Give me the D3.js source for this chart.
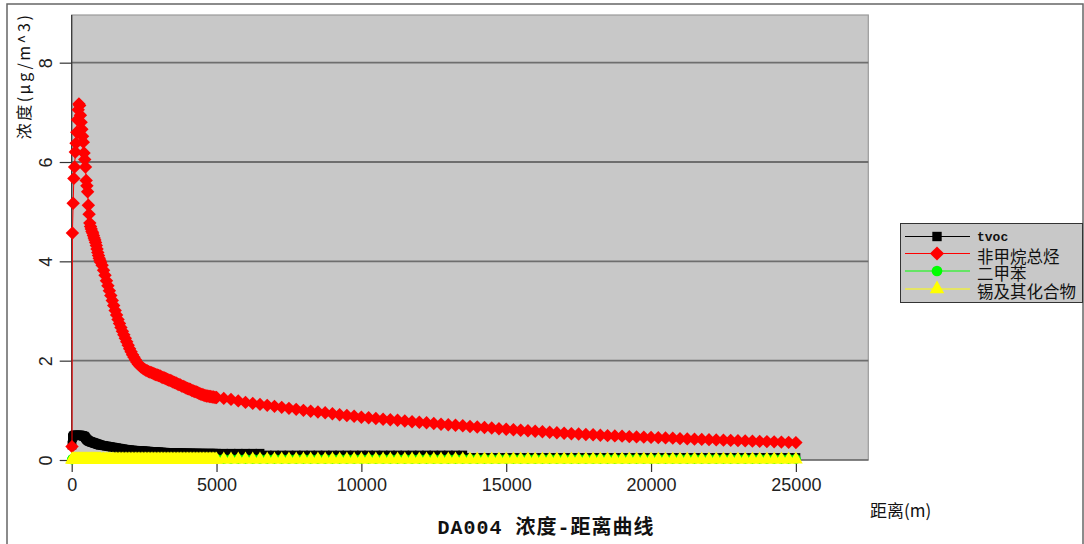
<!DOCTYPE html>
<html><head><meta charset="utf-8">
<script src="https://cdn.jsdelivr.net/npm/d3@7"></script>
<style>body{margin:0;background:#fff;} svg{display:block;}</style>
</head><body><svg id="c" width="1084" height="544"></svg>
<script>
const distance = [
10,25,50,75,100,125,150,175,200,225,250,275,300,325,350,375,400,425,450,475,500,525,550,575,600,625,650,675,700,725,750,775,800,825,850,875,900,925,950,975,1000,
1050,1100,1150,1200,1250,1300,1350,1400,1450,1500,1550,1600,1650,1700,1750,1800,1850,1900,1950,2000,
2050,2100,2150,2200,2250,2300,2350,2400,2450,2500,2550,2600,2650,2700,2750,2800,2850,2900,2950,3000,
3050,3100,3150,3200,3250,3300,3350,3400,3450,3500,3550,3600,3650,3700,3750,3800,3850,3900,3950,4000,
4050,4100,4150,4200,4250,4300,4350,4400,4450,4500,4550,4600,4650,4700,4750,4800,4850,4900,4950,5000,
5250,5500,5750,6000,6250,6500,6750,7000,7250,7500,7750,8000,8250,8500,8750,9000,9250,9500,9750,10000,
10250,10500,10750,11000,11250,11500,11750,12000,12250,12500,12750,13000,13250,13500,13750,14000,14250,14500,14750,15000,
15250,15500,15750,16000,16250,16500,16750,17000,17250,17500,17750,18000,18250,18500,18750,19000,19250,19500,19750,20000,
20250,20500,20750,21000,21250,21500,21750,22000,22250,22500,22750,23000,23250,23500,23750,24000,24250,24500,24750,25000];

const tvoc = [
0.30,0.45,0.48,0.49,0.50,0.50,0.50,0.50,0.50,0.50,0.50,0.50,0.50,0.49,0.49,0.49,0.48,0.48,0.47,0.45,0.43,0.41,0.40,0.39,0.38,0.37,0.37,0.36,0.36,0.35,0.35,0.34,0.34,0.33,0.33,0.32,0.32,0.31,0.31,0.30,0.30,
0.295,0.29,0.285,0.28,0.275,0.27,0.265,0.26,0.255,0.25,0.245,0.24,0.235,0.23,0.225,0.22,0.215,0.21,0.207,0.204,
0.201,0.198,0.196,0.194,0.192,0.19,0.188,0.186,0.184,0.182,0.18,0.178,0.176,0.174,0.172,0.17,0.168,0.166,0.164,0.162,
0.16,0.158,0.156,0.155,0.154,0.153,0.152,0.151,0.15,0.149,0.148,0.147,0.146,0.145,0.144,0.143,0.142,0.141,0.14,0.14,
0.139,0.139,0.138,0.138,0.137,0.137,0.137,0.136,0.136,0.136,0.136,0.135,0.135,0.135,0.135,0.135,0.135,0.135,0.135,0.135,
0.135,0.135,0.135,0.135,0.135,0.135,0.10,0.10,0.10,0.10,0.10,0.10,0.10,0.10,0.10,0.10,0.10,0.10,0.10,0.10,
0.10,0.10,0.10,0.10,0.10,0.10,0.10,0.10,0.10,0.10,0.10,0.10,0.10,0.10,0.05,0.05,0.05,0.05,0.05,0.05,
0.05,0.05,0.05,0.05,0.05,0.05,0.05,0.05,0.05,0.05,0.05,0.05,0.05,0.05,0.05,0.05,0.05,0.05,0.05,0.05,
0.05,0.05,0.05,0.05,0.05,0.05,0.05,0.05,0.05,0.05,0.05,0.05,0.05,0.05,0.05,0.05,0.05,0.05,0.05,0.05];

const nmhc = [
0.27,4.57,5.17,5.67,5.90,6.20,6.38,6.60,6.85,7.05,7.17,7.14,6.94,6.80,6.66,6.52,6.40,6.18,6.05,5.90,5.63,5.52,5.40,5.13,4.95,4.77,4.70,4.65,4.60,4.57,4.52,4.47,4.43,4.38,4.32,4.25,4.18,4.12,4.06,4.02,3.98,
3.92,3.82,3.72,3.61,3.51,3.41,3.31,3.21,3.11,3.01,2.92,2.83,2.75,2.67,2.59,2.52,2.45,2.38,2.31,2.24,
2.18,2.12,2.07,2.02,1.97,1.93,1.90,1.87,1.85,1.83,1.81,1.80,1.78,1.77,1.76,1.75,1.73,1.72,1.71,1.70,
1.69,1.67,1.66,1.65,1.64,1.62,1.61,1.60,1.59,1.57,1.56,1.55,1.53,1.52,1.51,1.49,1.48,1.47,1.45,1.44,
1.43,1.42,1.40,1.39,1.38,1.37,1.36,1.34,1.33,1.32,1.31,1.30,1.29,1.29,1.28,1.28,1.27,1.27,1.26,1.26,
1.24,1.22,1.19,1.16,1.14,1.12,1.10,1.08,1.06,1.04,1.02,1.00,0.98,0.965,0.95,0.93,0.91,0.895,0.88,0.86,
0.85,0.835,0.82,0.81,0.80,0.785,0.77,0.76,0.75,0.735,0.72,0.71,0.70,0.69,0.675,0.665,0.655,0.645,0.63,0.62,
0.61,0.60,0.59,0.58,0.57,0.56,0.55,0.54,0.53,0.525,0.515,0.51,0.50,0.49,0.485,0.48,0.47,0.465,0.46,0.455,
0.45,0.445,0.44,0.43,0.425,0.42,0.415,0.41,0.405,0.40,0.395,0.39,0.385,0.38,0.375,0.37,0.365,0.36,0.355,0.35];

const xylene = [
0.01,0.02,0.02,0.02,0.02,0.02,0.02,0.02,0.02,0.02,0.02,0.02,0.02,0.02,0.02,0.02,0.02,0.02,0.02,0.02,0.02,0.02,0.02,0.02,0.02,0.02,0.02,0.02,0.02,0.02,0.02,0.02,0.02,0.02,0.02,0.02,0.02,0.02,0.02,0.02,0.02,
0.02,0.02,0.02,0.02,0.02,0.02,0.02,0.02,0.02,0.02,0.02,0.02,0.02,0.02,0.02,0.02,0.02,0.02,0.02,0.02,
0.02,0.02,0.02,0.02,0.02,0.02,0.02,0.02,0.02,0.02,0.02,0.02,0.02,0.02,0.02,0.02,0.02,0.02,0.02,0.02,
0.02,0.02,0.02,0.02,0.02,0.02,0.02,0.02,0.02,0.02,0.02,0.02,0.02,0.02,0.02,0.02,0.02,0.02,0.02,0.02,
0.02,0.02,0.02,0.02,0.02,0.02,0.02,0.02,0.02,0.02,0.02,0.02,0.02,0.02,0.02,0.02,0.02,0.02,0.02,0.02,
0.02,0.02,0.02,0.02,0.02,0.02,0.02,0.02,0.02,0.02,0.02,0.02,0.02,0.02,0.02,0.02,0.02,0.02,0.02,0.02,
0.02,0.02,0.02,0.02,0.02,0.02,0.02,0.02,0.02,0.02,0.02,0.02,0.02,0.02,0.02,0.02,0.02,0.02,0.02,0.02,
0.02,0.02,0.02,0.02,0.02,0.02,0.02,0.02,0.02,0.02,0.02,0.02,0.02,0.02,0.02,0.02,0.02,0.02,0.02,0.02,
0.02,0.02,0.02,0.02,0.02,0.02,0.02,0.02,0.02,0.02,0.02,0.02,0.02,0.02,0.02,0.02,0.02,0.02,0.02,0.02];

const tin = [
0.01,0.01,0.01,0.01,0.01,0.01,0.01,0.01,0.01,0.01,0.01,0.01,0.01,0.01,0.01,0.01,0.01,0.01,0.01,0.01,0.01,0.01,0.01,0.01,0.01,0.01,0.01,0.01,0.01,0.01,0.01,0.01,0.01,0.01,0.01,0.01,0.01,0.01,0.01,0.01,0.01,
0.01,0.01,0.01,0.01,0.01,0.01,0.01,0.01,0.01,0.01,0.01,0.01,0.01,0.01,0.01,0.01,0.01,0.01,0.01,0.01,
0.01,0.01,0.01,0.01,0.01,0.01,0.01,0.01,0.01,0.01,0.01,0.01,0.01,0.01,0.01,0.01,0.01,0.01,0.01,0.01,
0.01,0.01,0.01,0.01,0.01,0.01,0.01,0.01,0.01,0.01,0.01,0.01,0.01,0.01,0.01,0.01,0.01,0.01,0.01,0.01,
0.01,0.01,0.01,0.01,0.01,0.01,0.01,0.01,0.01,0.01,0.01,0.01,0.01,0.01,0.01,0.01,0.01,0.01,0.01,0.01,
0.01,0.01,0.01,0.01,0.01,0.01,0.01,0.01,0.01,0.01,0.01,0.01,0.01,0.01,0.01,0.01,0.01,0.01,0.01,0.01,
0.01,0.01,0.01,0.01,0.01,0.01,0.01,0.01,0.01,0.01,0.01,0.01,0.01,0.01,0.01,0.01,0.01,0.01,0.01,0.01,
0.01,0.01,0.01,0.01,0.01,0.01,0.01,0.01,0.01,0.01,0.01,0.01,0.01,0.01,0.01,0.01,0.01,0.01,0.01,0.01,
0.01,0.01,0.01,0.01,0.01,0.01,0.01,0.01,0.01,0.01,0.01,0.01,0.01,0.01,0.01,0.01,0.01,0.01,0.01,0.01];

const seriesNames = ["tvoc", "非甲烷总烃", "二甲苯", "锡及其化合物"];
const xTicks = [0, 5000, 10000, 15000, 20000, 25000];
const yTicks = [0, 2, 4, 6, 8];
const gridTicks = [2, 4, 6, 8];
const titleText = "DA004 浓度-距离曲线";
const xLabel = "距离(m)";
const yLabel = "浓度(μg/m^3)";

const svg = d3.select("#c");
const x = d3.scaleLinear().domain([0, 27500]).range([71.7, 868.3]);
const y = d3.scaleLinear().domain([0, 8.96]).range([460, 15]);

// outer frame
svg.append("rect").attr("x", 7).attr("y", 4).attr("width", 1076).attr("height", 560)
  .attr("fill", "none").attr("stroke", "#666").attr("stroke-width", 1.5);

// plot background
svg.append("rect").attr("x", x(0)).attr("y", y(8.96)).attr("width", x(27500) - x(0)).attr("height", y(0) - y(8.96))
  .attr("fill", "#c8c8c8").attr("stroke", "#9a9a9a").attr("stroke-width", 1.2);

// grid
svg.append("g").selectAll("line").data(gridTicks).join("line")
  .attr("x1", x(0)).attr("x2", x(27500)).attr("y1", d => y(d)).attr("y2", d => y(d))
  .attr("stroke", "#6e6e6e").attr("stroke-width", 1.8);

// left and bottom border darker
svg.append("line").attr("x1", x(0)).attr("x2", x(0)).attr("y1", y(8.96)).attr("y2", y(0)).attr("stroke", "#333").attr("stroke-width", 1.2);
svg.append("line").attr("x1", x(0)).attr("x2", x(27500)).attr("y1", y(0)).attr("y2", y(0)).attr("stroke", "#444").attr("stroke-width", 1.2);

// axes
const yAxis = svg.append("g").attr("transform", `translate(${x(0)},0)`)
  .call(d3.axisLeft(y).tickValues(yTicks).tickSize(12).tickFormat(d3.format("d")));
yAxis.select(".domain").remove();
yAxis.selectAll(".tick line").attr("stroke", "#333").attr("stroke-width", 1.2);
yAxis.selectAll(".tick text").attr("x", 0).attr("dy", "0.35em")
  .attr("transform", "translate(-26,0) rotate(-90)").attr("text-anchor", "middle")
  .attr("font-family", "Liberation Sans, Arial, sans-serif").attr("font-size", 18).attr("fill", "#222");

const xAxis = svg.append("g").attr("transform", `translate(0,${y(0)})`)
  .call(d3.axisBottom(x).tickValues(xTicks).tickSize(12).tickFormat(d3.format("d")));
xAxis.select(".domain").remove();
xAxis.selectAll(".tick line").attr("stroke", "#333").attr("stroke-width", 1.2);
xAxis.selectAll(".tick text").attr("y", 25).attr("dy", "0.35em")
  .attr("font-family", "Liberation Sans, Arial, sans-serif").attr("font-size", 18).attr("fill", "#222");

// series
const series = [
  {name: seriesNames[0], values: tvoc, color: "#000000", sym: d3.symbolSquare, size: 78, rot: 0},
  {name: seriesNames[1], values: nmhc, color: "#ff0000", sym: d3.symbolSquare, size: 90, rot: 45},
  {name: seriesNames[2], values: xylene, color: "#00ff00", sym: d3.symbolCircle, size: 80, rot: 0},
  {name: seriesNames[3], values: tin, color: "#ffff00", sym: d3.symbolTriangle, size: 82, rot: 0}
];
const line = d3.line().x(d => x(d[0])).y(d => y(d[1]));
series.forEach(s => {
  const pts = distance.map((d, i) => [d, s.values[i]]);
  const g = svg.append("g");
  g.append("path").attr("d", line(pts)).attr("fill", "none").attr("stroke", s.color).attr("stroke-width", 1);
  const sp = d3.symbol().type(s.sym).size(s.size)();
  g.selectAll("path.m").data(pts).join("path").attr("class", "m")
    .attr("d", sp).attr("fill", s.color)
    .attr("transform", d => `translate(${x(d[0])},${y(d[1])}) rotate(${s.rot})`);
});

// legend
const lg = svg.append("g");
lg.append("rect").attr("x", 900.5).attr("y", 223.5).attr("width", 182).attr("height", 79)
  .attr("fill", "#c8c8c8").attr("stroke", "#333").attr("stroke-width", 1);
const rowY = [236.5, 253.5, 271, 289];
series.forEach((s, i) => {
  lg.append("line").attr("x1", 905).attr("x2", 970).attr("y1", rowY[i]).attr("y2", rowY[i])
    .attr("stroke", s.color).attr("stroke-width", 1.2);
  lg.append("path").attr("d", d3.symbol().type(s.sym).size(s.size + 10)())
    .attr("fill", s.color).attr("transform", `translate(937,${rowY[i]}) rotate(${s.rot})`);
  const t = lg.append("text").attr("x", 977).attr("y", rowY[i] + (i === 0 ? 1 : 2)).attr("dominant-baseline", "central")
    .attr("fill", "#111").text(s.name);
  if (i === 0) t.attr("font-family", "Liberation Mono, monospace").attr("font-weight", "bold").attr("font-size", 13);
  else t.attr("font-family", "Noto Sans CJK SC, sans-serif").attr("font-size", 16.5);
});

// titles
svg.append("text").attr("x", 546).attr("y", 528).attr("text-anchor", "middle").attr("dominant-baseline", "central")
  .attr("font-family", "Liberation Mono, Noto Sans CJK SC, monospace").attr("font-weight", "bold")
  .attr("font-size", 20).attr("letter-spacing", 1).attr("fill", "#111").text(titleText);
svg.append("text").attr("x", 870).attr("y", 509).attr("dominant-baseline", "central")
  .attr("font-family", "Noto Sans CJK SC, sans-serif").attr("font-size", 17).attr("fill", "#111").text(xLabel);
svg.append("text").attr("transform", "translate(23,76) rotate(-90)").attr("text-anchor", "middle").attr("dominant-baseline", "central")
  .attr("font-family", "Noto Sans CJK SC, sans-serif").attr("font-size", 16).attr("letter-spacing", 2.5).attr("fill", "#111").text(yLabel);
</script></body></html>
